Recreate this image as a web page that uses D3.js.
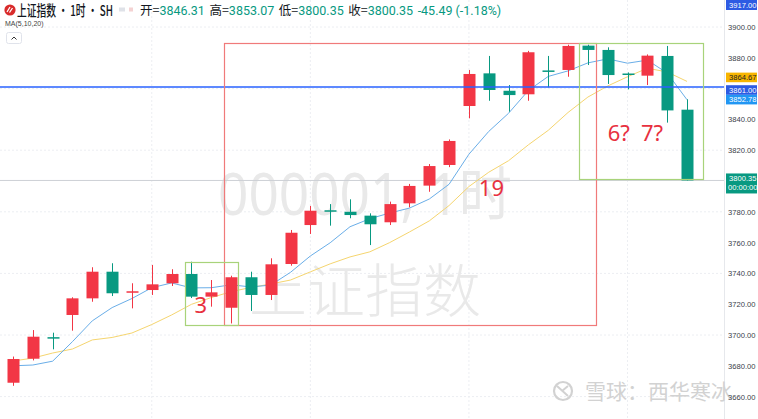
<!DOCTYPE html>
<html>
<head>
<meta charset="utf-8">
<script src="https://cdn.jsdelivr.net/npm/d3@7"></script>
<style>
  html, body { margin: 0; padding: 0; background: #fff; }
  svg { display: block; font-family: "Noto Sans CJK SC", "Noto Sans", sans-serif; }
</style>
</head>
<body>
<div id="chart"></div>
<script>
// 1h bars, oldest first
const opens  = [3669.0, 3684.6, 3698.6, 3713.0, 3723.8, 3741.1, 3727.8, 3729.2, 3733.6, 3739.6, 3724.9, 3717.7, 3737.5, 3726.0, 3746.1, 3771.4, 3781.0, 3780.0, 3777.5, 3773.2, 3785.5, 3797.0, 3810.4, 3848.7, 3869.9, 3858.6, 3856.3, 3871.8, 3872.1, 3887.9, 3885.1, 3869.8, 3868.4, 3881.2, 3846.31];
const highs  = [3686.0, 3703.2, 3701.5, 3724.5, 3744.0, 3746.6, 3733.6, 3745.5, 3742.7, 3747.6, 3735.7, 3738.5, 3741.1, 3749.8, 3768.2, 3783.8, 3785.0, 3788.1, 3779.0, 3786.6, 3798.1, 3811.0, 3827.0, 3872.1, 3881.2, 3862.3, 3884.5, 3881.2, 3888.5, 3888.5, 3886.8, 3870.5, 3882.2, 3887.7, 3853.07];
const lows   = [3667.0, 3683.5, 3690.7, 3702.8, 3721.6, 3725.3, 3717.3, 3726.0, 3731.8, 3724.0, 3718.4, 3707.5, 3715.6, 3722.7, 3745.0, 3765.6, 3771.0, 3775.8, 3758.4, 3771.4, 3782.9, 3793.0, 3809.0, 3840.7, 3852.1, 3845.0, 3852.1, 3860.8, 3867.7, 3875.3, 3863.0, 3859.5, 3862.3, 3837.9, 3800.35];
const closes = [3684.4, 3698.9, 3698.0, 3723.8, 3741.1, 3727.1, 3728.4, 3732.9, 3739.6, 3724.9, 3727.7, 3737.5, 3726.0, 3745.9, 3766.4, 3780.7, 3780.5, 3777.9, 3771.9, 3785.0, 3796.8, 3809.7, 3826.0, 3869.5, 3859.1, 3855.8, 3883.6, 3871.4, 3887.7, 3885.1, 3868.8, 3869.3, 3881.4, 3845.84, 3800.35];
const ma5    = [3680.0, 3680.5, 3683.0, 3695.7, 3709.2, 3717.8, 3723.7, 3730.7, 3733.8, 3730.6, 3730.7, 3732.6, 3731.2, 3732.4, 3740.7, 3751.3, 3759.9, 3770.3, 3775.5, 3779.2, 3782.4, 3788.3, 3797.9, 3817.4, 3832.2, 3844.0, 3858.8, 3867.9, 3871.5, 3876.7, 3879.3, 3876.5, 3878.5, 3870.1, 3852.78];
const ma10   = [3683.1, 3685.0, 3688.3, 3690.9, 3696.8, 3698.4, 3701.3, 3706.8, 3713.0, 3719.9, 3724.3, 3728.1, 3730.9, 3733.1, 3735.7, 3741.0, 3746.2, 3750.7, 3754.0, 3760.0, 3766.9, 3774.1, 3784.1, 3796.4, 3805.7, 3813.2, 3823.5, 3832.9, 3844.5, 3854.5, 3861.7, 3867.7, 3873.2, 3870.8, 3864.67];

const priceTicks = [3660, 3680, 3700, 3720, 3740, 3760, 3780, 3800, 3820, 3840, 3860, 3880, 3900];
const gridPrices = [3660, 3700, 3740, 3780, 3820, 3860, 3900];
const gridBars = [7, 15, 23, 31];
const hLine = 3861;      // drawn horizontal line
const topLine = 3917;    // off-screen line, label pinned to top

// drawings on the chart: bar index range + price range
const boxes = [
    {i0: 10.64, i1: 29.41, p0: 3889.6, p1: 3706.8, color: "#f07a7a"},
    {i0: 8.68,  i1: 11.35, p0: 3747.4, p1: 3706.5, color: "#a8d37a"},
    {i0: 28.55, i1: 34.81, p0: 3889.6, p1: 3801.0, color: "#a8d37a"}
];
const notes = [
    {text: "3",  i: 9.15,  p: 3714.0},
    {text: "19", i: 23.5,  p: 3790.0},
    {text: "6?", i: 30.0,  p: 3826.0},
    {text: "7?", i: 31.68, p: 3826.0}
];

const W = 758, H = 419, plotRight = 724;
const upColor = "#f23645", downColor = "#089981";
const axisFont = "'Liberation Sans', Arial, sans-serif";

const svg = d3.select("#chart").append("svg")
    .attr("width", W).attr("height", H);
svg.append("rect").attr("width", W).attr("height", H).attr("fill", "#fff");

const x = d3.scaleLinear().domain([0, closes.length - 1]).range([13, 687]);
const y = d3.scaleLinear().domain([3660, 3900]).range([396.6, 27]);

// grid
svg.append("g").selectAll("line").data(gridPrices).enter().append("line")
    .attr("x1", 0).attr("x2", plotRight)
    .attr("y1", d => y(d)).attr("y2", d => y(d))
    .attr("stroke", "#eceef2").attr("stroke-dasharray", "2,2");
svg.append("g").selectAll("line").data(gridBars).enter().append("line")
    .attr("x1", d => x(d)).attr("x2", d => x(d))
    .attr("y1", 0).attr("y2", H)
    .attr("stroke", "#eceef2").attr("stroke-dasharray", "2,2");

// watermark
const wm = svg.append("g").attr("fill", "#e9e9e9").attr("text-anchor", "middle");
wm.append("text").attr("x", 365).attr("y", 215).attr("font-size", 58)
    .attr("textLength", 294).attr("lengthAdjust", "spacingAndGlyphs")
    .style("font-family", "'Noto Sans', 'Noto Sans CJK SC', sans-serif").text("000001, 1时");
wm.append("text").attr("x", 365).attr("y", 312).attr("font-size", 58)
    .attr("font-weight", 300).text("上证指数");

// last price line
svg.append("line")
    .attr("x1", 0).attr("x2", plotRight)
    .attr("y1", y(closes[closes.length - 1])).attr("y2", y(closes[closes.length - 1]))
    .attr("stroke", "#cdd0d6");

// moving averages
const line = arr => d3.line().x((d, i) => x(i)).y(d => y(d))(arr);
svg.append("path").attr("d", line(ma10)).attr("fill", "none").attr("stroke", "#f5d56f").attr("stroke-width", 1);
svg.append("path").attr("d", line(ma5)).attr("fill", "none").attr("stroke", "#6aaee8").attr("stroke-width", 1);

// candles
const bars = d3.range(closes.length);
const cw = 12;
const g = svg.append("g");
g.selectAll("line.wick").data(bars).enter().append("line")
    .attr("class", "wick")
    .attr("x1", i => Math.round(x(i)) + 0.5).attr("x2", i => Math.round(x(i)) + 0.5)
    .attr("y1", i => y(highs[i])).attr("y2", i => y(lows[i]))
    .attr("stroke", i => closes[i] >= opens[i] ? upColor : downColor);
g.selectAll("rect.body").data(bars).enter().append("rect")
    .attr("class", "body")
    .attr("x", i => Math.round(x(i)) - cw / 2 + 0.5)
    .attr("width", cw)
    .attr("y", i => y(Math.max(opens[i], closes[i])))
    .attr("height", i => Math.max(1.5, Math.abs(y(opens[i]) - y(closes[i]))))
    .attr("fill", i => closes[i] >= opens[i] ? upColor : downColor);

// horizontal line
svg.append("line").attr("x1", 0).attr("x2", plotRight)
    .attr("y1", Math.round(y(hLine))).attr("y2", Math.round(y(hLine)))
    .attr("stroke", "#2962ff").attr("stroke-width", 1.3);

// drawn boxes
svg.append("g").selectAll("rect").data(boxes).enter().append("rect")
    .attr("x", d => Math.round(x(d.i0)) + 0.5)
    .attr("y", d => Math.round(y(d.p0)) + 0.5)
    .attr("width", d => Math.round(x(d.i1) - x(d.i0)))
    .attr("height", d => Math.round(y(d.p1) - y(d.p0)))
    .attr("fill", "none").attr("stroke", d => d.color).attr("stroke-width", 1.2);

svg.append("g").selectAll("text").data(notes).enter().append("text")
    .attr("x", d => x(d.i)).attr("y", d => y(d.p))
    .attr("fill", "#e8313f").attr("font-size", 22)
    .style("font-family", "'Noto Sans', sans-serif")
    .text(d => d.text);

// right price axis
const fmt = v => v.toFixed(2);
const lastC = closes[closes.length - 1];
const tags = [
    {v: ma10[ma10.length - 1], bg: "#f7b500", fg: "#222"},
    {v: hLine, bg: "#2d5be3", fg: "#fff"},
    {v: ma5[ma5.length - 1], bg: "#2196f3", fg: "#fff"}
].sort((a, b) => b.v - a.v);
let lastY = -Infinity;
tags.forEach(t => {
    let cy = y(t.v);
    if (cy < lastY + 9.6) cy = lastY + 9.6;
    lastY = cy;
    t.cy = cy;
});
tags[0].cy -= 4; tags[1].cy -= 1; tags[2].cy -= 1;
const taken = tags.map(t => t.cy).concat([y(lastC) + 3, 5]);
const shownTicks = priceTicks.filter(p => taken.every(c => Math.abs(y(p) - c) > 9));

svg.append("rect").attr("x", plotRight).attr("y", 0).attr("width", W - plotRight).attr("height", H).attr("fill", "#fff");
svg.append("line").attr("x1", plotRight + 0.5).attr("x2", plotRight + 0.5).attr("y1", 0).attr("y2", H).attr("stroke", "#e6e8ec");

// bottom-right watermark (runs under the axis)
const sw = svg.append("g").attr("fill", "#d2d2d2");
sw.append("circle").attr("cx", 563).attr("cy", 391).attr("r", 9).attr("fill", "none").attr("stroke", "#d2d2d2").attr("stroke-width", 2.2);
sw.append("path").attr("d", "M557,386 L568,396 M568,386 L562,391").attr("stroke", "#d2d2d2").attr("stroke-width", 2).attr("fill", "none");
sw.append("text").attr("x", 585).attr("y", 399).attr("font-size", 21).text("雪球：西华寒冰");

const axis = svg.append("g").attr("transform", `translate(${plotRight + 4},0)`)
    .call(d3.axisRight(y).tickValues(shownTicks).tickFormat(fmt).tickSize(0));
axis.select(".domain").remove();
axis.selectAll("text").attr("x", 0).attr("fill", "#3a3e48").attr("font-size", 7.6)
    .style("font-family", axisFont);

const tagG = svg.append("g").style("font-family", axisFont).attr("font-size", 7.6);
tags.forEach(t => {
    tagG.append("rect").attr("x", plotRight + 2).attr("y", t.cy - 4.8).attr("width", 31).attr("height", 9.6).attr("fill", t.bg);
    tagG.append("text").attr("x", plotRight + 5).attr("y", t.cy + 2.8).attr("fill", t.fg).text(fmt(t.v));
});
// top pinned label
tagG.append("rect").attr("x", plotRight + 2).attr("y", 0).attr("width", 31).attr("height", 10).attr("fill", "#2d5be3");
tagG.append("text").attr("x", plotRight + 5).attr("y", 7.8).attr("fill", "#fff").text(fmt(topLine));
// last price label with countdown
const ly = y(lastC);
tagG.append("rect").attr("x", plotRight + 2).attr("y", ly - 7).attr("width", 31).attr("height", 20).attr("fill", downColor);
tagG.append("text").attr("x", plotRight + 5).attr("y", ly + 1).attr("fill", "#fff").text(fmt(lastC));
tagG.append("text").attr("x", plotRight + 4).attr("y", ly + 10).attr("fill", "#fff").text("00:00:00");

// header
const hd = svg.append("g");
hd.append("circle").attr("cx", 10).attr("cy", 10).attr("r", 5.6).attr("fill", "#d92b2b");
hd.append("path").attr("d", "M7,12 L10,7 M9.5,12.5 L12.5,8").attr("stroke", "#fff").attr("stroke-width", 1.3).attr("fill", "none");
hd.append("text").attr("x", 17).attr("y", 15.5).attr("font-size", 14.5).attr("font-weight", 500).attr("fill", "#131722")
    .attr("textLength", 96).attr("lengthAdjust", "spacingAndGlyphs")
    .text("上证指数 • 1时 • SH");
hd.append("rect").attr("x", 119).attr("y", 7.5).attr("width", 6).attr("height", 4).attr("fill", "#dfe2e8");
hd.append("rect").attr("x", 129).attr("y", 7.5).attr("width", 4).attr("height", 4).attr("fill", "#f4d2d2");
const ohlc = [
    {k: "开", v: fmt(opens[opens.length - 1])},
    {k: "高", v: fmt(highs[highs.length - 1])},
    {k: "低", v: fmt(lows[lows.length - 1])},
    {k: "收", v: fmt(lastC)}
];
const chg = lastC - closes[closes.length - 2];
let hx = 140;
ohlc.forEach(o => {
    const t = hd.append("text").attr("x", hx).attr("y", 15).attr("font-size", 12.5);
    t.append("tspan").attr("fill", "#131722").text(o.k + "=");
    t.append("tspan").attr("fill", downColor).style("font-family", "Roboto, sans-serif").text(o.v);
    hx += t.node().getComputedTextLength() + 4.5;
});
hd.append("text").attr("x", hx).attr("y", 15).attr("font-size", 12.5).attr("fill", downColor)
    .style("font-family", "Roboto, sans-serif")
    .text(`${fmt(chg)} (${fmt(chg / closes[closes.length - 2] * 100)}%)`);
hd.append("text").attr("x", 5).attr("y", 25.5).attr("font-size", 7).attr("fill", "#444")
    .style("font-family", axisFont).text("MA(5,10,20)");
hd.append("rect").attr("x", 6.5).attr("y", 32.5).attr("width", 15).attr("height", 11).attr("rx", 2)
    .attr("fill", "#fff").attr("stroke", "#e0e3eb");
hd.append("path").attr("d", "M11.5,39.5 L14,37 L16.5,39.5").attr("stroke", "#333").attr("stroke-width", 1).attr("fill", "none");
</script>
</body>
</html>
